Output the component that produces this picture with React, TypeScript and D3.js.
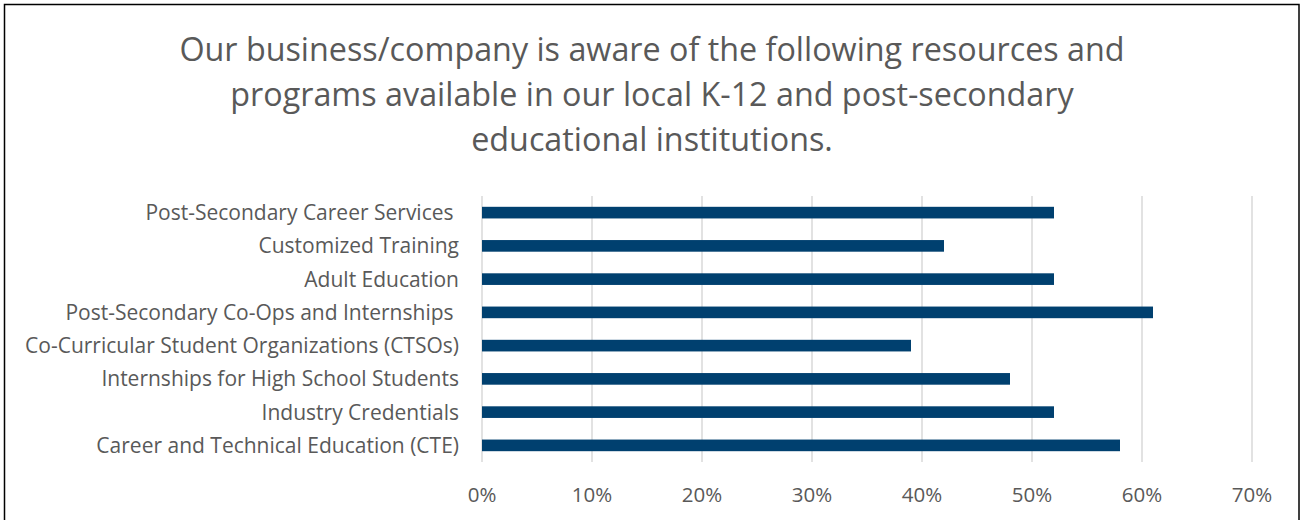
import * as d3 from "d3";
import { useRef, useEffect } from "react";

// категории и значения (доли в процентах)
const categories = [
  "Post-Secondary Career Services ",
  "Customized Training",
  "Adult Education",
  "Post-Secondary Co-Ops and Internships ",
  "Co-Curricular Student Organizations (CTSOs)",
  "Internships for High School Students",
  "Industry Credentials",
  "Career and Technical Education (CTE)",
];
const values = [52, 42, 52, 61, 39, 48, 52, 58];
const xTicks = [0, 10, 20, 30, 40, 50, 60, 70];
const titleLines = [
  "Our business/company is aware of the following resources and",
  "programs available in our local K-12 and post-secondary",
  "educational institutions.",
];

const W = 1302;
const H = 520;
const margin = { top: 196, bottom: 58, left: 482, right: 50 };
const font = "'Open Sans', sans-serif";
const gray = "#595959";

const App = () => {
  const ref = useRef<SVGSVGElement>(null);

  useEffect(() => {
    const svg = d3.select(ref.current);
    svg.selectAll("*").remove();

    const x = d3.scaleLinear().domain([0, 70]).range([margin.left, W - margin.right]);
    const y = d3
      .scaleBand()
      .domain(categories)
      .range([margin.top, H - margin.bottom])
      .paddingInner(0.65)
      .paddingOuter(0.325);

    svg.append("rect")
      .attr("x", 4.5).attr("y", 4.5)
      .attr("width", W - 3 - 4.5).attr("height", H + 10)
      .attr("fill", "white").attr("stroke", "black").attr("stroke-width", 1.5);

    // заголовок
    svg.append("g").selectAll("text")
      .data(titleLines)
      .enter()
      .append("text")
      .attr("x", 652)
      .attr("y", (d, i) => 61 + i * 45)
      .attr("text-anchor", "middle")
      .style("font-family", font)
      .style("font-size", "32.3px")
      .style("fill", gray)
      .text(d => d);

    // сетка
    svg.append("g").selectAll("line")
      .data(xTicks)
      .enter()
      .append("line")
      .attr("x1", d => x(d)).attr("x2", d => x(d))
      .attr("y1", margin.top).attr("y2", H - margin.bottom)
      .attr("stroke", "#d9d9d9").attr("stroke-width", 1.5);

    // подписи оси X
    svg.append("g").selectAll("text")
      .data(xTicks)
      .enter()
      .append("text")
      .attr("x", d => x(d))
      .attr("y", 502)
      .attr("text-anchor", "middle")
      .style("font-family", font)
      .style("font-size", "20.5px")
      .style("fill", gray)
      .text(d => d + "%");

    // подписи категорий
    svg.append("g").selectAll("text")
      .data(categories)
      .enter()
      .append("text")
      .attr("x", 459)
      .attr("y", d => y(d)! + y.bandwidth() / 2)
      .attr("dy", "0.36em")
      .attr("text-anchor", "end")
      .style("white-space", "pre")
      .style("font-family", font)
      .style("font-size", "21px")
      .style("fill", gray)
      .text(d => d);

    // столбцы
    svg.append("g").selectAll("rect")
      .data(values)
      .enter()
      .append("rect")
      .attr("x", x(0))
      .attr("y", (d, i) => y(categories[i])!)
      .attr("width", d => x(d) - x(0))
      .attr("height", y.bandwidth())
      .style("fill", "#00406f");
  }, []);

  return (
    <svg ref={ref} width={W} height={H} style={{ position: "absolute", left: 0, top: 0 }}></svg>
  );
};

export default App;
